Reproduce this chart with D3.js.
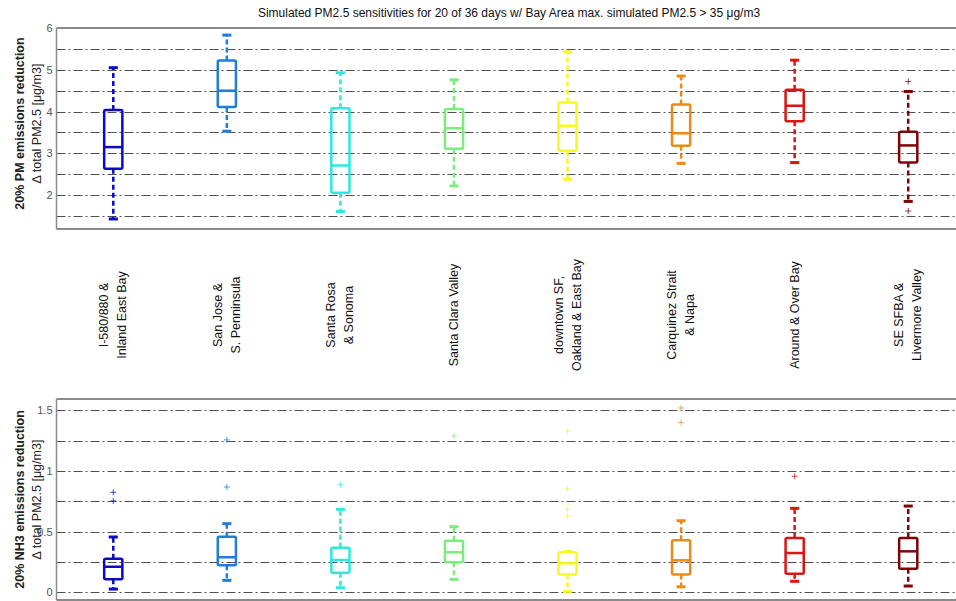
<!DOCTYPE html>
<html>
<head>
<meta charset="utf-8">
<script src="https://cdn.jsdelivr.net/npm/d3@7"></script>
<style>
  html, body { margin: 0; padding: 0; background: #fff; }
  svg { display: block; font-family: "Liberation Sans", Arial, sans-serif; }
</style>
</head>
<body>
<svg id="chart" width="956" height="601"></svg>
<script>
// Source regions (two-line labels split with "\n")
const categories = [
  "I-580/880 &\nInland East Bay",
  "San Jose &\nS. Penninsula",
  "Santa Rosa\n& Sonoma",
  "Santa Clara Valley",
  "downtown SF,\nOakland & East Bay",
  "Carquinez Strait\n& Napa",
  "Around & Over Bay",
  "SE SFBA &\nLivermore Valley"
];
const boxColors = ["#0b0bc4", "#1f7fd8", "#2ee8e0", "#7cec7c", "#f8f820", "#ec8a18", "#dc1414", "#7c0606"];

// 20% PM emissions reduction: whisker low, Q1, median, Q3, whisker high
const pmLow    = [1.43, 3.53, 1.61, 2.22, 2.38, 2.76, 2.78, 1.85];
const pmQ1     = [2.63, 4.11, 2.06, 3.11, 3.06, 3.18, 3.77, 2.78];
const pmMedian = [3.15, 4.50, 2.71, 3.60, 3.66, 3.48, 4.14, 3.19];
const pmQ3     = [4.04, 5.22, 4.08, 4.06, 4.22, 4.17, 4.52, 3.52];
const pmHigh   = [5.05, 5.83, 4.93, 4.76, 5.43, 4.85, 5.23, 4.48];
const pmOutliers = [[], [], [], [], [], [], [], [4.72, 1.62]];

// 20% NH3 emissions reduction
const nhLow    = [0.027, 0.099, 0.038, 0.107, 0.008, 0.046, 0.091, 0.052];
const nhQ1     = [0.107, 0.223, 0.162, 0.247, 0.148, 0.148, 0.153, 0.195];
const nhMedian = [0.211, 0.289, 0.266, 0.330, 0.239, 0.264, 0.324, 0.338];
const nhQ3     = [0.277, 0.459, 0.368, 0.425, 0.330, 0.429, 0.448, 0.448];
const nhHigh   = [0.456, 0.566, 0.684, 0.541, 0.337, 0.590, 0.692, 0.711];
const nhOutliers = [[0.824, 0.753], [1.256, 0.868], [0.887], [1.289],
                    [1.33, 0.852, 0.684, 0.629], [1.519, 1.398], [0.956], []];

// Axis ticks
const pmTicks = [2, 3, 4, 5, 6];
const pmGrid  = [1.5, 2, 2.5, 3, 3.5, 4, 4.5, 5, 5.5, 6];
const nhTicks = [0, 0.5, 1, 1.5];
const nhGrid  = [0, 0.25, 0.5, 0.75, 1, 1.25, 1.5];

const titleText = "Simulated PM2.5 sensitivities for 20 of 36 days w/ Bay Area max. simulated PM2.5 > 35 \u03bcg/m3";
const pmLabel = ["20% PM emissions reduction", "\u0394 total PM2.5 [\u03bcg/m3]"];
const nhLabel = ["20% NH3 emissions reduction", "\u0394 total PM2.5 [\u03bcg/m3]"];

const svg = d3.select("#chart");
const W = 956;

// Box positions 1..8, axis runs past the right edge of the page
const x = d3.scaleLinear().domain([0.5, 8.5]).range([56.5, 965]);
const boxHalf = 0.08;   // in position units
const capHalf = 0.04;

function panel(cfg) {
  const y = d3.scaleLinear().domain(cfg.domain).range([cfg.bottom, cfg.top]);
  const g = svg.append("g");

  // dash-dot grid lines
  g.append("g")
    .selectAll("line")
    .data(cfg.grid)
    .join("line")
    .attr("x1", x(0.5)).attr("x2", W)
    .attr("y1", d => Math.round(y(d)) + 0.5)
    .attr("y2", d => Math.round(y(d)) + 0.5)
    .attr("stroke", "#505050")
    .attr("stroke-width", 1)
    .attr("stroke-dasharray", "9,3,2,3");

  // frame
  g.append("line")
    .attr("x1", x(0.5)).attr("x2", W)
    .attr("y1", cfg.top).attr("y2", cfg.top)
    .attr("stroke", "#8a8a8a").attr("stroke-width", 2);
  g.append("line")
    .attr("x1", x(0.5)).attr("x2", W)
    .attr("y1", cfg.bottom).attr("y2", cfg.bottom)
    .attr("stroke", "#8a8a8a").attr("stroke-width", 2);
  g.append("line")
    .attr("x1", x(0.5)).attr("x2", x(0.5))
    .attr("y1", cfg.top).attr("y2", cfg.bottom)
    .attr("stroke", "#8a8a8a").attr("stroke-width", 1.5);

  // tick labels
  const axis = d3.axisLeft(y)
    .tickValues(cfg.ticks)
    .tickSize(0)
    .tickPadding(4)
    .tickFormat(d3.format("~g"));
  const ag = g.append("g")
    .attr("transform", `translate(${x(0.5)},0)`)
    .call(axis);
  ag.select(".domain").remove();
  ag.selectAll("text")
    .attr("font-family", "Liberation Sans, Arial, sans-serif")
    .attr("font-size", 11)
    .attr("fill", "#555");

  // y-axis title (two lines)
  const cy = (cfg.top + cfg.bottom) / 2 + cfg.labelShift;
  const yl = g.append("text")
    .attr("transform", `translate(24,${cy}) rotate(-90)`)
    .attr("text-anchor", "middle")
    .attr("font-size", 12.5)
    .attr("fill", "#222");
  yl.append("tspan").attr("x", 0).attr("dy", 0)
    .attr("font-weight", "bold").text(cfg.label[0]);
  yl.append("tspan").attr("x", 0).attr("dy", 17).text(cfg.label[1]);

  const data = categories.map((c, i) => ({
    pos: i + 1, color: boxColors[i],
    low: cfg.low[i], q1: cfg.q1[i], med: cfg.med[i], q3: cfg.q3[i], high: cfg.high[i],
    out: cfg.out[i]
  }));

  const bx = g.append("g").selectAll("g").data(data).join("g");

  // whiskers (dashed)
  bx.append("line")
    .attr("x1", d => x(d.pos)).attr("x2", d => x(d.pos))
    .attr("y1", d => y(d.q3)).attr("y2", d => y(d.high))
    .attr("stroke", d => d.color).attr("stroke-width", 2.5)
    .attr("stroke-dasharray", "5,3");
  bx.append("line")
    .attr("x1", d => x(d.pos)).attr("x2", d => x(d.pos))
    .attr("y1", d => y(d.q1)).attr("y2", d => y(d.low))
    .attr("stroke", d => d.color).attr("stroke-width", 2.5)
    .attr("stroke-dasharray", "5,3");

  // whisker caps
  for (const key of ["high", "low"]) {
    bx.append("line")
      .attr("x1", d => x(d.pos - capHalf)).attr("x2", d => x(d.pos + capHalf))
      .attr("y1", d => y(d[key])).attr("y2", d => y(d[key]))
      .attr("stroke", d => d.color).attr("stroke-width", 3);
  }

  // box
  bx.append("rect")
    .attr("x", d => x(d.pos - boxHalf))
    .attr("width", d => x(d.pos + boxHalf) - x(d.pos - boxHalf))
    .attr("y", d => y(d.q3))
    .attr("height", d => y(d.q1) - y(d.q3))
    .attr("fill", "none")
    .attr("stroke", d => d.color).attr("stroke-width", 2.5)
    .attr("rx", 1.5);

  // median
  bx.append("line")
    .attr("x1", d => x(d.pos - boxHalf)).attr("x2", d => x(d.pos + boxHalf))
    .attr("y1", d => y(d.med)).attr("y2", d => y(d.med))
    .attr("stroke", d => d.color).attr("stroke-width", 2.5);

  // outliers as "+"
  bx.each(function(d) {
    const s = d3.select(this);
    s.selectAll("path.out").data(d.out).join("path")
      .attr("class", "out")
      .attr("d", v => {
        const px = x(d.pos), py = y(v);
        return `M${px - 3},${py}H${px + 3}M${px},${py - 3}V${py + 3}`;
      })
      .attr("stroke", d.color).attr("stroke-width", 1)
      .attr("opacity", 0.75)
      .attr("fill", "none");
  });

  return y;
}

panel({
  domain: [1.19, 6], top: 28, bottom: 229,
  ticks: pmTicks, grid: pmGrid, label: pmLabel, labelShift: -5,
  low: pmLow, q1: pmQ1, med: pmMedian, q3: pmQ3, high: pmHigh, out: pmOutliers
});

panel({
  domain: [-0.063, 1.593], top: 399, bottom: 600,
  ticks: nhTicks, grid: nhGrid, label: nhLabel, labelShift: 0,
  low: nhLow, q1: nhQ1, med: nhMedian, q3: nhQ3, high: nhHigh, out: nhOutliers
});

// title
svg.append("text")
  .attr("x", 509).attr("y", 17)
  .attr("text-anchor", "middle")
  .attr("font-size", 12)
  .attr("fill", "#111")
  .text(titleText);

// region names, rotated, between the two panels
const lab = svg.append("g").selectAll("text")
  .data(categories)
  .join("text")
  .attr("transform", (d, i) => `translate(${x(i + 1)},315) rotate(-90)`)
  .attr("text-anchor", "middle")
  .attr("font-size", 12.5)
  .attr("fill", "#111");
lab.each(function(d) {
  const lines = d.split("\n");
  const t = d3.select(this);
  const start = lines.length === 1 ? 4 : -5;
  lines.forEach((ln, k) => {
    t.append("tspan").attr("x", 0)
      .attr("dy", k === 0 ? start : 18)
      .text(ln);
  });
});
</script>
</body>
</html>
